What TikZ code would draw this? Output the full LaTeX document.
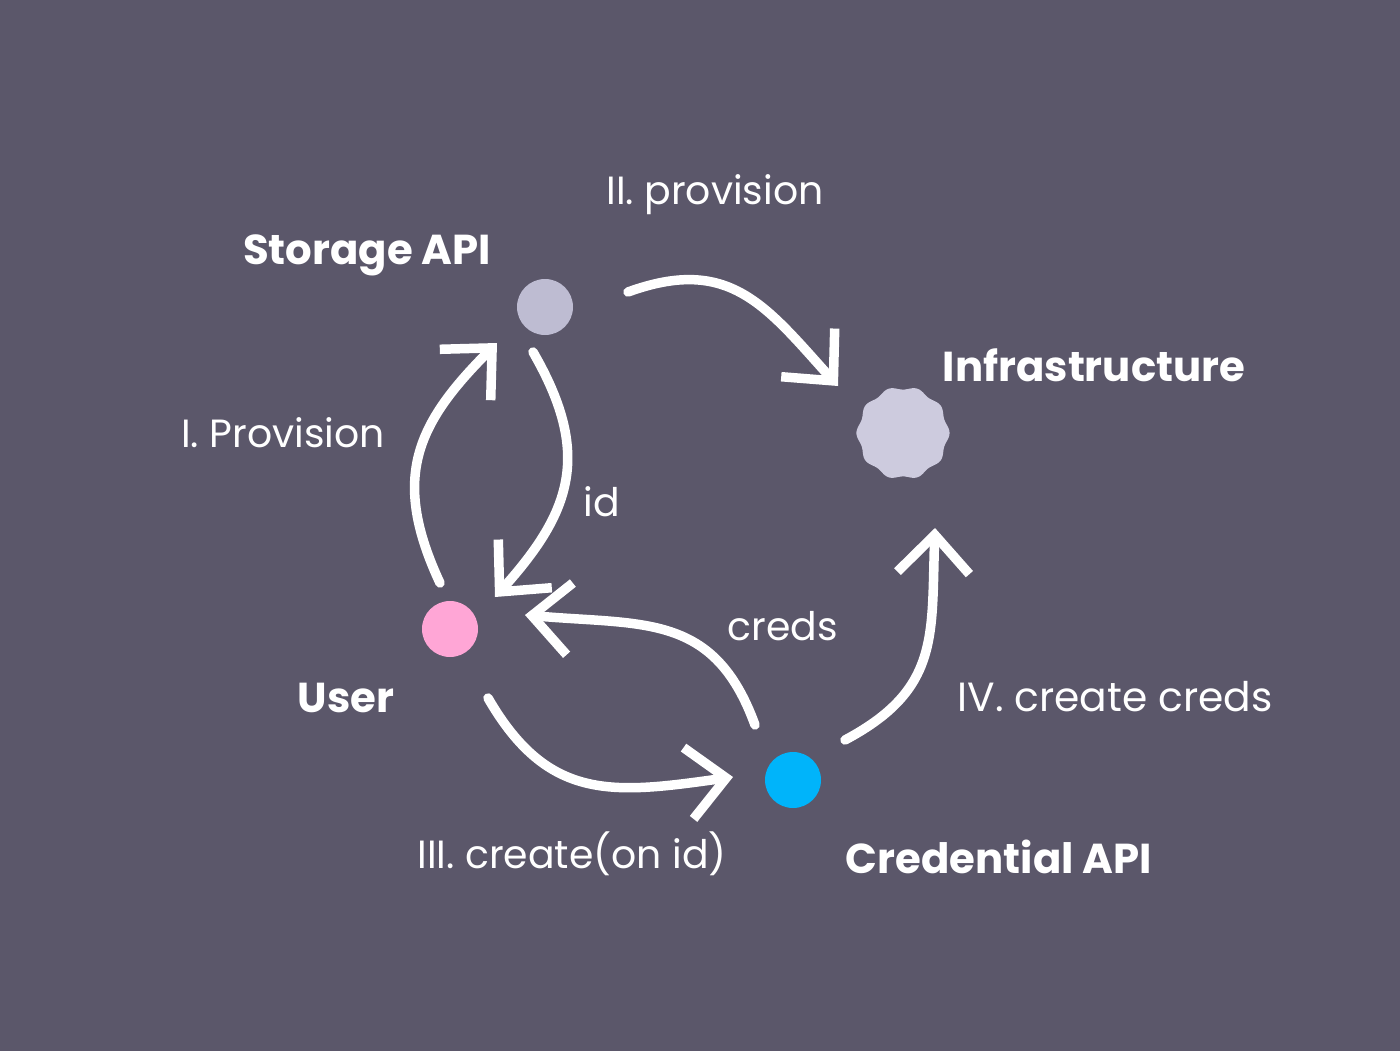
\documentclass[tikz,border=0pt]{standalone}
\usepackage{fontspec}
\setmainfont{Poppins}
\usetikzlibrary{arrows.meta}

\definecolor{bgcol}{RGB}{91,87,106}
\definecolor{storecol}{RGB}{190,188,210}
\definecolor{infracol}{RGB}{205,203,222}
\definecolor{usercol}{RGB}{255,166,214}
\definecolor{credcol}{RGB}{0,180,250}

\tikzset{
  dot/.style={circle, minimum size=5.6mm, inner sep=0pt},
  flow/.style={draw=white, line width=2.7pt, line cap=round, looseness=1.2,
    -{Straight Barb[length=3.8mm, width=7.2mm]}},
  tag/.style={text=white, inner sep=0pt, font=\fontsize{11.2}{13}\selectfont},
  title/.style={text=white, inner sep=0pt, font=\bfseries\fontsize{11.9}{14}\selectfont},
}

\begin{document}
\begin{tikzpicture}
                \fill[bgcol] (0,0) rectangle (14,-10.51);
                \useasboundingbox (0,0) rectangle (14,-10.51);
                % the four parties
                \node[dot, fill=storecol] (storage) at (5.45,-3.07) {};
                \node[circle, minimum size=9mm, inner sep=0pt] (infra) at (9.03,-4.33) {};
                \fill[infracol, shift={(infra.center)}]
                    plot[domain=0:360, samples=120, smooth cycle] (\x:{0.45+0.016*cos(10*\x)});
                \node[dot, fill=usercol] (user) at (4.50,-6.29) {};
                \node[dot, fill=credcol] (cred) at (7.93,-7.80) {};
                \node[title] (storageName) at (3.67,-2.55) {Storage API};
                \node[title] (infraName) at (10.94,-3.65) {Infrastructure};
                \node[title] (userName) at (3.46,-6.98) {User};
                \node[title] (credName) at (9.99,-8.57) {Credential API};
                % the steps
                \draw[flow] ([shift={(-0.10,0.46)}]user.center) to[out=115, in=225] ([shift={(-0.48,-0.36)}]storage.center);
                \draw[flow] ([shift={(0.83,0.15)}]storage.center) to[out=20, in=132] ([shift={(-0.65,0.47)}]infra.center);
                \draw[flow] ([shift={(-0.12,-0.45)}]storage.center) to[out=300, in=48] ([shift={(0.45,0.32)}]user.center);
                \draw[flow] ([shift={(-0.38,0.55)}]cred.center) to[out=110, in=355] ([shift={(0.75,0.14)}]user.center);
                \draw[flow] ([shift={(0.38,-0.69)}]user.center) to[out=300, in=188] ([shift={(-0.60,0.03)}]cred.center);
                \draw[flow] ([shift={(0.52,0.40)}]cred.center) to[out=28, in=268] ([shift={(0.32,-0.95)}]infra.center);
                \node[tag] (lblOne) at (2.83,-4.33) {I. Provision};
                \node[tag] (lblTwo) at (7.15,-1.95) {II. provision};
                \node[tag] (lblId) at (6.02,-5.02) {id};
                \node[tag] (lblCreds) at (7.83,-6.26) {creds};
                \node[tag] (lblThree) at (5.72,-8.54) {III. create(on id)};
                \node[tag, font=\fontsize{11.6}{13}\selectfont] (lblFour) at (11.15,-6.97) {IV.\ create\ creds};
\end{tikzpicture}
\end{document}
